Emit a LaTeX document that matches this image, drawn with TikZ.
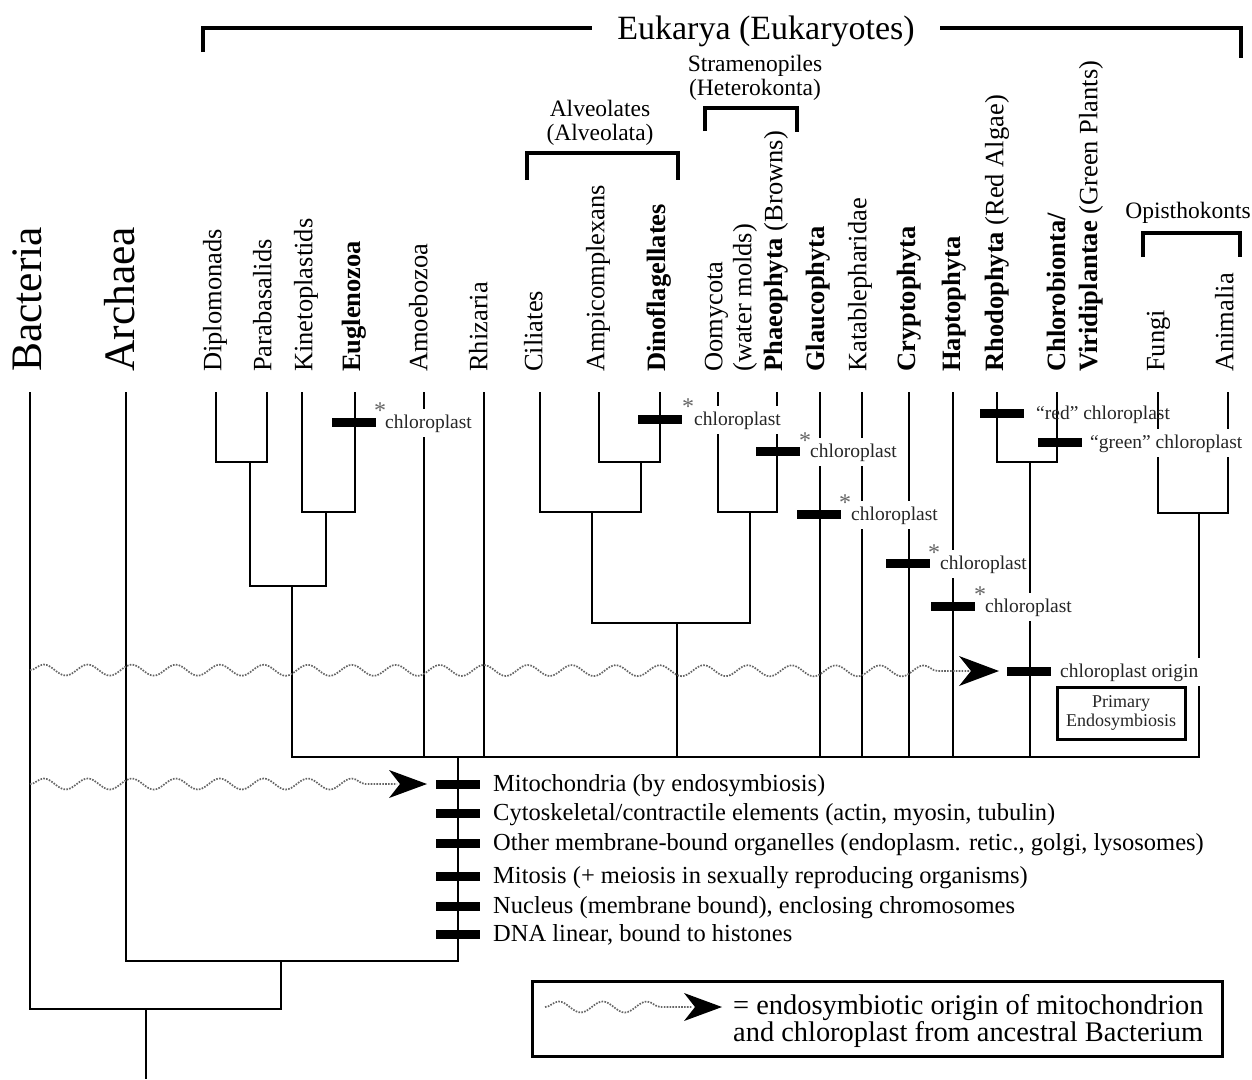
\documentclass[tikz,border=0pt]{standalone}
\usepackage{fontspec}
\setmainfont{Liberation Serif}
\usetikzlibrary{decorations.pathmorphing}
\newcommand\fsz[1]{\fontsize{#1}{#1}\selectfont}
\begin{document}
\begin{tikzpicture}[x=1pt,y=-1pt,
 tree/.style={line width=2pt},
 brk/.style={line width=4pt},
 lab/.style={rotate=90,anchor=mid west,inner sep=0pt,font=\fsz{26.5}},
 bigl/.style={rotate=90,anchor=mid west,inner sep=0pt,font=\fsz{43.5}},
 grp/.style={anchor=base,inner sep=0pt,font=\fsz{23.5}},
 bar/.style={fill=black,minimum width=44pt,minimum height=9pt,inner sep=0pt},
 cl/.style={anchor=base west,inner xsep=2pt,inner ysep=5pt,fill=white,font=\fsz{19.5},text=black!85},
 ast/.style={anchor=base,inner sep=0pt,font=\fsz{24},text=black!60},
 feat/.style={anchor=base west,inner sep=0pt,font=\fsz{24.5}},
 leg/.style={anchor=base west,inner sep=0pt,font=\fsz{28.4}},
 wave/.style={draw=black!60,line width=1.7pt,dash pattern=on 1.6pt off 1.3pt,decorate,decoration={snake,segment length=44pt,amplitude=5.5pt,post length=14pt}},
 ahd/.style={fill=black},
 boxx/.style={draw=black,line width=3pt}
]
\fill[white] (0,0) rectangle (1252,1079);
\useasboundingbox (0,0) rectangle (1252,1079);

% ---------- leaf tops ----------
\foreach \n/\x in {bac/30,arc/126,dip/216,par/267,kin/302,eug/355,amo/424,rhi/484,cil/540,amp/599,din/660,oom/718,pha/777,gla/820,kat/862,cry/909,hap/953,rho/997,chl/1057,fun/1158,ani/1228}
  \coordinate (t\n) at (\x,392);

% ---------- internal nodes ----------
\coordinate (n1) at (250,462);
\coordinate (n2) at (326,512);
\coordinate (n3) at (292,586);
\coordinate (n4) at (641,462);
\coordinate (n5) at (592,512);
\coordinate (n6) at (750,512);
\coordinate (n7) at (677,623);
\coordinate (n8) at (1030,462);
\coordinate (n9) at (1199,513);
\coordinate (ne) at (458,757);
\coordinate (na) at (281,961);
\coordinate (nr) at (146,1009);
\coordinate (root) at (146,1079);

\draw[tree] (tdip) |- (n1) -| (tpar);
\draw[tree] (tkin) |- (n2) -| (teug);
\draw[tree] (n1) |- (n3) -| (n2);
\draw[tree] (tamp) |- (n4) -| (tdin);
\draw[tree] (tcil) |- (n5) -| (n4);
\draw[tree] (toom) |- (n6) -| (tpha);
\draw[tree] (n5) |- (n7) -| (n6);
\draw[tree] (trho) |- (n8) -| (tchl);
\draw[tree] (tfun) |- (n9) -| (tani);
\draw[tree] (n3) |- (ne) -| (n9);
\foreach \n in {tamo,trhi,n7,tgla,tkat,tcry,thap,n8}
  \draw[tree] (\n) -- (\n |- ne);
\draw[tree] (tarc) |- (na) -| (ne);
\draw[tree] (tbac) |- (nr) -| (na);
\draw[tree] (nr) -- (root);

% ---------- leaf labels ----------
\node[bigl] (lbac) at (39,372) {Bacteria};
\node[bigl] (larc) at (132,372) {Archaea};
\node[lab] (ldip) at (219,372) {Diplomonads};
\node[lab] (lpar) at (269,372) {Parabasalids};
\node[lab] (lkin) at (310,372) {Kinetoplastids};
\node[lab] (leug) at (358,372) {\textbf{Euglenozoa}};
\node[lab] (lamo) at (425,372) {Amoebozoa};
\node[lab] (lrhi) at (485,372) {Rhizaria};
\node[lab] (lcil) at (540,372) {Ciliates};
\node[lab] (lamp) at (602,372) {Ampicomplexans};
\node[lab] (ldin) at (663,372) {\textbf{Dinoflagellates}};
\node[lab] (loom) at (720,372) {Oomycota};
\node[lab] (loom2) at (749,372) {(water molds)};
\node[lab] (lpha) at (780,372) {\textbf{Phaeophyta} (Browns)};
\node[lab] (lgla) at (822,372) {\textbf{Glaucophyta}};
\node[lab] (lkat) at (864,372) {Katablepharidae};
\node[lab] (lcry) at (913,372) {\textbf{Cryptophyta}};
\node[lab] (lhap) at (958,372) {\textbf{Haptophyta}};
\node[lab] (lrho) at (1001,372) {\textbf{Rhodophyta} (Red Algae)};
\node[lab] (lchl) at (1063,372) {\textbf{Chlorobionta/}};
\node[lab] (lchl2) at (1095,372) {\textbf{Viridiplantae} (Green Plants)};
\node[lab] (lfun) at (1162,372) {Fungi};
\node[lab] (lani) at (1231,372) {Animalia};

% ---------- group brackets ----------
\node[anchor=base,inner sep=0pt,font=\fsz{34}] (euk) at (766,39) {Eukarya (Eukaryotes)};
\coordinate (ek1) at (203,52);
\coordinate (ek2) at (592,28);
\coordinate (ek3) at (940,28);
\coordinate (ek4) at (1241,58);
\draw[brk] (ek1) |- (ek2);
\draw[brk] (ek3) -| (ek4);

\node[grp] (alv1) at (600,116) {Alveolates};
\node[grp] (alv2) at (600,140) {(Alveolata)};
\coordinate (al1) at (527,180);
\coordinate (al2) at (678,153);
\coordinate (al3) at (678,180);
\draw[brk] (al1) |- (al2) -- (al3);

\node[grp] (str1) at (755,71) {Stramenopiles};
\node[grp] (str2) at (755,95) {(Heterokonta)};
\coordinate (st1) at (705,131);
\coordinate (st2) at (797,108);
\coordinate (st3) at (797,132);
\draw[brk] (st1) |- (st2) -- (st3);

\node[grp] (opi) at (1188,218) {Opisthokonts};
\coordinate (op1) at (1143,257);
\coordinate (op2) at (1240,233);
\coordinate (op3) at (1240,257);
\draw[brk] (op1) |- (op2) -- (op3);

% ---------- chloroplast labels ----------
\node[cl] (c1) at (383,428) {chloroplast};
\node[cl] (c2) at (692,425) {chloroplast};
\node[cl] (c3) at (808,457) {chloroplast};
\node[cl] (c4) at (849,520) {chloroplast};
\node[cl] (c5) at (938,569) {chloroplast};
\node[cl] (c6) at (983,612) {chloroplast};
\node[cl,fill=none] (c7) at (1034,419) {“red” chloroplast};
\node[cl] (c8) at (1088,448) {“green” chloroplast};
\node[cl] (c9) at (1058,677) {chloroplast origin};

\node[ast] (a1) at (380,418) {*};
\node[ast] (a2) at (688,414) {*};
\node[ast] (a3) at (805,448) {*};
\node[ast] (a4) at (845,510) {*};
\node[ast] (a5) at (934,560) {*};
\node[ast] (a6) at (980,602) {*};

\node[bar] (b1) at (354,422) {};
\node[bar] (b2) at (660,419) {};
\node[bar] (b3) at (778,451) {};
\node[bar] (b4) at (819,514) {};
\node[bar] (b5) at (908,563) {};
\node[bar] (b6) at (953,606) {};
\node[bar] (b7) at (1002,413) {};
\node[bar] (b8) at (1060,442) {};
\node[bar] (b9) at (1029,671) {};

% ---------- primary endosymbiosis box ----------
\node[boxx,minimum width=128pt,minimum height=52pt,inner sep=0pt,align=center,font=\fsz{18},text=black!85] (prim) at (1121,713) {Primary\\[1pt]Endosymbiosis};

% ---------- eukaryote features ----------
\foreach \y/\t in {784/{Mitochondria (by endosymbiosis)},813/{Cytoskeletal/contractile elements (actin, myosin, tubulin)},843/{Other membrane-bound organelles (endoplasm. retic., golgi, lysosomes)},876/{Mitosis (+ meiosis in sexually reproducing organisms)},906/{Nucleus (membrane bound), enclosing chromosomes},934/{DNA linear, bound to histones}}{
  \node[bar] at (458,\y) {};
  \node[feat] at (493,\y+7) {\t};
}

% ---------- endosymbiosis arrows ----------
\coordinate (w1s) at (30,670);
\coordinate (ah1) at (999,671);
\draw[wave] (w1s) -- ([xshift=-30pt]ah1);
\fill[ahd] (ah1) -- ++(-40,-15) -- ++(12,15) -- ++(-12,15) -- cycle;

\coordinate (w2s) at (30,784);
\coordinate (ah2) at (427,784);
\draw[wave] (w2s) -- ([xshift=-30pt]ah2);
\fill[ahd] (ah2) -- ++(-38,-14) -- ++(11,14) -- ++(-11,14) -- cycle;

% ---------- legend ----------
\node[boxx,minimum width=690pt,minimum height=75pt,inner sep=0pt] (legbox) at (877,1018.5) {};
\coordinate (w3s) at (545,1007);
\coordinate (ah3) at (722,1007);
\draw[wave] (w3s) -- ([xshift=-30pt]ah3);
\fill[ahd] (ah3) -- ++(-38,-14) -- ++(11,14) -- ++(-11,14) -- cycle;
\node[leg] (lt1) at (733,1014) {= endosymbiotic origin of mitochondrion};
\node[leg] (lt2) at (733,1041) {and chloroplast from ancestral Bacterium};
\end{tikzpicture}
\end{document}
